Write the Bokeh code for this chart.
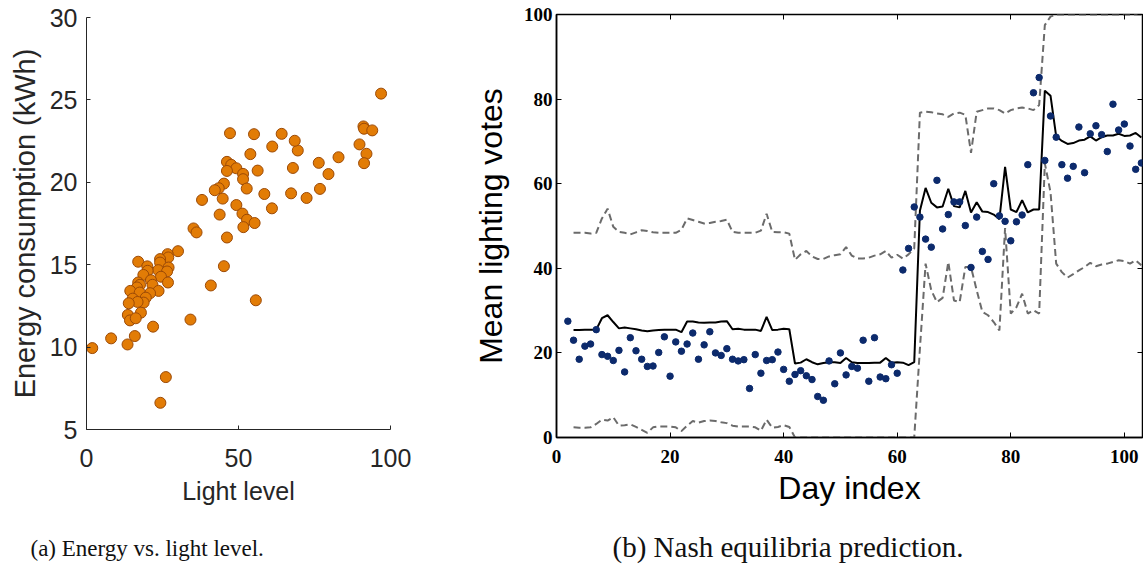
from bokeh.plotting import figure
from bokeh.layouts import row
from bokeh.models import Range1d, FixedTicker, LinearAxis, Title
from bokeh.embed import file_html
from bokeh.resources import INLINE

# ---- (a) Energy vs. light level ----
light = [96.9, 91.1, 91.3, 94.0, 89.8, 92.1, 91.3, 82.9, 76.4, 79.6, 76.8, 72.4,
         67.3, 67.9, 69.5, 68.5, 64.2, 61.1, 55.1, 47.2, 53.9, 56.3, 46.2, 47.6,
         49.3, 46.2, 51.5, 51.5, 52.7, 58.5, 61.0, 45.2, 43.5, 42.2, 44.8, 38.0,
         49.3, 51.3, 52.8, 55.3, 51.6, 43.8, 35.2, 36.2, 46.2, 30.1, 26.7, 26.9,
         24.2, 17.0, 20.0, 24.2, 27.0, 23.6, 26.5, 20.1, 18.7, 24.5, 21.2, 17.0,
         26.8, 21.7, 17.6, 16.6, 23.7, 14.4, 20.9, 17.5, 19.5, 15.2, 18.8, 16.8,
         13.9, 17.9, 13.6, 14.3, 16.2, 45.2, 40.9, 55.7, 34.2, 21.9, 15.9, 8.1,
         13.5, 1.9, 26.1, 24.3]
energy = [25.38, 23.39, 23.25, 23.15, 22.30, 21.73, 21.16, 21.52, 21.18, 20.50, 19.60, 19.05,
          19.33, 20.87, 21.93, 22.52, 22.94, 22.17, 22.92, 22.98, 21.71, 20.71, 21.24, 21.06,
          20.85, 20.69, 20.51, 20.19, 19.62, 19.29, 18.42, 19.92, 19.64, 19.52, 19.01, 18.93,
          18.62, 18.10, 17.73, 17.53, 17.28, 18.04, 17.20, 16.96, 16.65, 15.82, 15.64, 15.44,
          15.34, 15.18, 14.90, 15.13, 14.83, 14.67, 14.59, 14.63, 14.38, 14.27, 14.06, 13.92,
          13.92, 13.78, 13.78, 13.62, 13.41, 13.41, 13.27, 13.31, 13.00, 12.94, 12.70, 12.74,
          12.66, 12.09, 11.95, 11.62, 11.75, 14.91, 13.74, 12.84, 11.67, 11.24, 10.67, 10.53,
          10.16, 9.94, 8.18, 6.62]
a_xticks = [0, 50, 100]
a_yticks = [5, 10, 15, 20, 25, 30]

# ---- (b) Nash equilibria prediction ----
obs_days = list(range(2, 104))
votes = [27.5, 23.0, 18.5, 21.6, 22.1, 25.5, 19.6, 19.2, 18.2, 20.6,
         15.5, 23.6, 20.5, 18.5, 16.8, 16.9, 20.1, 23.8, 14.5, 22.6,
         20.4, 22.1, 24.7, 18.5, 21.9, 25.0, 20.0, 19.4, 21.0, 18.5,
         18.1, 18.4, 11.6, 19.6, 15.2, 18.2, 18.4, 20.2, 16.1, 13.3,
         14.9, 15.8, 14.6, 13.7, 9.7, 8.8, 18.1, 12.7, 20.0, 14.8,
         16.8, 16.4, 23.0, 13.3, 23.6, 14.3, 13.9, 17.2, 15.2, 39.6,
         44.7, 54.5, 52.1, 46.9, 45.0, 60.8, 49.3, 52.7, 55.7, 55.7,
         50.1, 40.2, 52.1, 44.0, 42.1, 60.0, 52.4, 51.1, 46.5, 51.0,
         52.6, 64.5, 81.5, 85.1, 65.5, 76.0, 71.0, 64.5, 61.3, 64.1,
         73.4, 62.6, 71.8, 73.7, 71.6, 67.6, 78.8, 72.7, 74.1, 68.9,
         63.4, 64.9]
pred_days = list(range(3, 104))
pred_mean = [25.4, 25.4, 25.5, 25.5, 25.5, 28.2, 28.9, 27.3, 25.8, 26.0,
             25.8, 25.6, 25.3, 25.1, 25.3, 25.4, 25.5, 25.5, 25.5, 24.9,
             27.4, 27.4, 27.2, 27.1, 27.2, 27.2, 27.4, 27.5, 25.6, 25.7,
             25.5, 25.5, 25.5, 25.2, 28.5, 25.4, 25.5, 25.7, 25.6, 17.5,
             17.7, 18.5, 17.8, 17.3, 17.6, 17.8, 17.8, 17.6, 18.8, 17.8,
             17.6, 17.6, 17.6, 17.7, 17.7, 18.8, 17.7, 17.8, 17.7, 17.1,
             17.8, 53.6, 59.0, 55.5, 54.4, 54.6, 58.8, 54.7, 54.4, 58.3,
             53.2, 55.6, 53.4, 53.3, 52.7, 51.6, 64.0, 53.9, 53.3, 56.1,
             53.2, 53.9, 53.9, 82.0, 80.8, 71.2, 70.1, 69.4, 69.6, 70.2,
             70.4, 71.2, 70.2, 71.0, 71.4, 71.4, 71.8, 71.3, 71.4, 72.0,
             70.9]
pred_upper = [48.4, 48.4, 48.4, 48.2, 48.4, 51.8, 54.1, 49.8, 48.6, 48.4,
              48.0, 48.5, 49.0, 48.8, 48.5, 48.4, 48.4, 48.4, 48.4, 49.1,
              51.8, 51.4, 51.0, 50.6, 50.7, 51.0, 51.2, 51.5, 48.6, 48.4,
              48.4, 48.4, 48.4, 48.9, 52.9, 48.6, 48.5, 48.5, 48.2, 42.0,
              43.3, 44.1, 42.8, 42.2, 42.2, 42.8, 43.1, 43.3, 45.0, 43.0,
              42.3, 42.3, 42.5, 43.0, 43.3, 44.1, 42.5, 43.2, 42.3, 43.3,
              44.7, 76.8, 77.0, 76.9, 76.6, 76.4, 75.8, 76.6, 76.8, 76.3,
              67.3, 77.0, 77.4, 77.8, 77.8, 77.4, 76.6, 77.4, 77.8, 78.0,
              77.8, 77.4, 78.6, 97.5, 99.5, 100.0, 100.0, 100.0, 100.0, 100.0,
              100.0, 100.0, 100.0, 100.0, 100.0, 100.0, 100.0, 100.0, 100.0, 100.0,
              100.0]
pred_lower = [2.4, 2.3, 2.3, 2.4, 3.2, 4.2, 4.0, 4.8, 2.8, 2.9,
              3.1, 2.5, 1.8, 1.1, 2.4, 2.6, 2.6, 2.6, 2.4, 1.5,
              2.8, 3.9, 3.5, 3.9, 4.0, 3.9, 3.6, 3.4, 2.8, 2.6,
              2.6, 2.6, 2.4, 1.6, 4.2, 2.3, 2.5, 2.9, 2.5, 0.0,
              0.0, 0.0, 0.0, 0.0, 0.0, 0.0, 0.0, 0.0, 0.0, 0.0,
              0.0, 0.0, 0.0, 0.0, 0.0, 0.0, 0.0, 0.0, 0.0, 0.0,
              0.0, 21.0, 41.1, 34.8, 32.0, 33.0, 41.5, 32.4, 32.0, 40.3,
              40.3, 34.8, 29.7, 28.9, 27.3, 25.3, 49.5, 29.3, 30.8, 34.0,
              29.3, 30.1, 29.3, 64.8, 58.0, 41.1, 39.1, 37.8, 38.6, 39.5,
              40.3, 41.3, 40.5, 40.9, 41.1, 41.5, 41.9, 41.7, 41.1, 41.9,
              40.7]
b_xticks = [0, 20, 40, 60, 80, 100]
b_yticks = [0, 20, 40, 60, 80, 100]


def spacer_axis(px, at):
    """An invisible axis used only to reserve vertical room above the caption."""
    ax = LinearAxis(ticker=FixedTicker(ticks=[at], minor_ticks=[]))
    ax.axis_line_color = None
    ax.major_tick_line_color = "white"
    ax.major_tick_line_width = 1
    ax.minor_tick_line_color = None
    ax.major_tick_in = 0
    ax.major_tick_out = px
    ax.minor_tick_in = 0
    ax.minor_tick_out = 0
    ax.major_label_overrides = {at: ""}
    ax.major_label_text_font_size = "1px"
    ax.major_label_standoff = 0
    return ax


# ---------------- figure (a) ----------------
p1 = figure(width=448, height=567, x_range=Range1d(0, 100), y_range=Range1d(5, 30),
            output_backend="svg", toolbar_location=None,
            min_border_left=86, min_border_right=58, min_border_top=17, min_border_bottom=138)
p1.frame_align = False
p1.outline_line_color = None
p1.grid.visible = False
p1.scatter(light, energy, size=11, fill_color="#E27C06", line_color="#9C4A06", line_width=1)

ax_col = "#262626"
for ax in (p1.xaxis[0], p1.yaxis[0]):
    ax.axis_line_color = ax_col
    ax.axis_line_width = 1
    ax.major_tick_line_color = ax_col
    ax.major_tick_in = 4
    ax.major_tick_out = 0
    ax.minor_tick_line_color = None
    ax.major_label_text_font = "Liberation Sans"
    ax.major_label_text_font_size = "25px"
    ax.major_label_text_color = ax_col
    ax.axis_label_text_font = "Liberation Sans"
    ax.axis_label_text_font_style = "normal"
    ax.axis_label_text_color = ax_col
p1.xaxis.ticker = FixedTicker(ticks=a_xticks)
p1.yaxis.ticker = FixedTicker(ticks=a_yticks)
p1.xaxis.axis_label = "Light level"
p1.yaxis.axis_label = "Energy consumption (kWh)"
p1.xaxis.axis_label_text_font_size = "25px"
p1.yaxis.axis_label_text_font_size = "29px"
p1.xaxis.major_label_standoff = 19
p1.yaxis.major_label_standoff = 9
p1.xaxis.axis_label_standoff = 7
p1.yaxis.axis_label_standoff = 6

p1.add_layout(spacer_axis(26, a_xticks[0]), "below")
cap1 = Title(text="(a) Energy vs. light level.", align="left", offset=-56,
             text_font="Liberation Serif", text_font_size="23px",
             text_font_style="normal", text_color="#111111", standoff=0)
p1.add_layout(cap1, "below")

# ---------------- figure (b) ----------------
p2 = figure(width=695, height=567, x_range=Range1d(0, 103.2), y_range=Range1d(0, 100),
            output_backend="svg", toolbar_location=None,
            min_border_left=108, min_border_right=1, min_border_top=14, min_border_bottom=130)
p2.frame_align = False
p2.grid.visible = False
p2.outline_line_color = "black"
p2.outline_line_width = 1.5

p2.line(pred_days, pred_upper, line_color="#6b6b6b", line_width=2, line_dash="7 4")
p2.line(pred_days, pred_lower, line_color="#6b6b6b", line_width=2, line_dash="7 4")
p2.line(pred_days, pred_mean, line_color="black", line_width=2)
p2.scatter(obs_days, votes, size=6.5, fill_color="#0C2A6C", line_color="#0C2A6C")

for ax in (p2.xaxis[0], p2.yaxis[0]):
    ax.axis_line_color = "black"
    ax.axis_line_width = 1.5
    ax.major_tick_line_color = "black"
    ax.major_tick_line_width = 1
    ax.major_tick_in = 5
    ax.major_tick_out = 0
    ax.minor_tick_line_color = None
    ax.major_label_text_font = "Liberation Serif"
    ax.major_label_text_font_style = "bold"
    ax.major_label_text_font_size = "19px"
    ax.major_label_text_color = "black"
    ax.axis_label_text_font = "Liberation Sans"
    ax.axis_label_text_font_style = "normal"
    ax.axis_label_text_color = "black"
    ax.axis_label_text_font_size = "32px"
p2.xaxis.ticker = FixedTicker(ticks=b_xticks)
p2.yaxis.ticker = FixedTicker(ticks=b_yticks)
p2.xaxis.axis_label = "Day index"
p2.yaxis.axis_label = "Mean lighting votes"
p2.xaxis.major_label_standoff = 12
p2.yaxis.major_label_standoff = 4
p2.xaxis.axis_label_standoff = 4
p2.yaxis.axis_label_standoff = 12

for side, ticks in (("right", b_yticks), ("above", b_xticks)):
    ax = LinearAxis(ticker=FixedTicker(ticks=ticks))
    ax.axis_line_color = None
    ax.major_tick_line_color = "black"
    ax.major_tick_in = 5
    ax.major_tick_out = 0
    ax.minor_tick_line_color = None
    ax.major_label_overrides = {t: "" for t in ticks}
    ax.major_label_text_font_size = "1px"
    ax.major_label_standoff = 0
    p2.add_layout(ax, side)

p2.add_layout(spacer_axis(20, b_xticks[0]), "below")
cap2 = Title(text="(b) Nash equilibria prediction.", align="left", offset=56,
             text_font="Liberation Serif", text_font_size="29px",
             text_font_style="normal", text_color="#111111", standoff=0)
p2.add_layout(cap2, "below")

layout = row(p1, p2)
open("out.html", "w").write(file_html(layout, INLINE))
